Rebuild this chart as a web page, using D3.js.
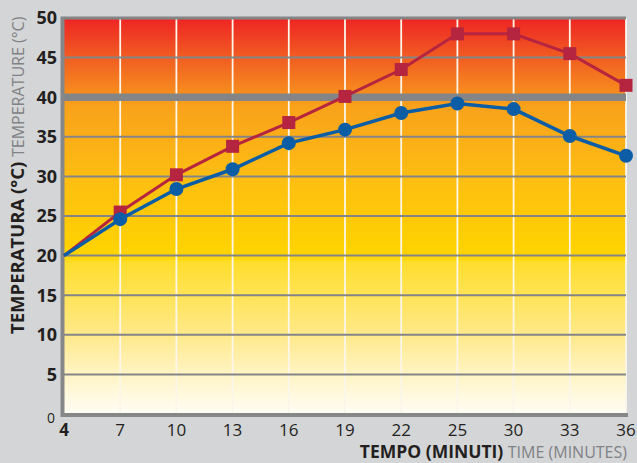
<!DOCTYPE html>
<html>
<head>
<meta charset="utf-8">
<script src="https://cdn.jsdelivr.net/npm/d3@7"></script>
<style>
  html, body { margin: 0; padding: 0; background: #d4d5d7; }
  svg { display: block; }
  text { font-family: "Open Sans", "Noto Sans", sans-serif; }
</style>
</head>
<body>
<div id="chart"></div>
<script>
// time in minutes (category axis, equally spaced)
const minutes = ['4', '7', '10', '13', '16', '19', '22', '25', '30', '33', '36']
// red series (squares)
const redTemps = [20, 25.5, 30.2, 33.8, 36.8, 40.1, 43.5, 48.0, 48.0, 45.5, 41.5]
// blue series (circles)
const blueTemps = [20, 24.6, 28.4, 30.9, 34.2, 35.9, 38.0, 39.2, 38.5, 35.1, 32.6]
const yTicks = [0, 5, 10, 15, 20, 25, 30, 35, 40, 45, 50]

const width = 637
const height = 463
const margin = { top: 18, right: 11, bottom: 49, left: 64 }
const inner = { w: width - margin.left - margin.right, h: height - margin.top - margin.bottom }

const svg = d3.select('#chart').append('svg')
  .attr('width', width).attr('height', height)

// background gradient, red at the top down to pale cream
const defs = svg.append('defs')
const grad = defs.append('linearGradient').attr('id', 'heat')
  .attr('x1', 0).attr('y1', 0).attr('x2', 0).attr('y2', 1)
const stops = [
  [0, '#ee2424'], [0.1, '#f15d22'], [0.2, '#f7921d'], [0.22, '#f9a11b'],
  [0.4, '#fdbd12'], [0.6, '#ffd400'], [0.62, '#ffde2e'], [0.8, '#ffe98a'],
  [0.9, '#fff4c4'], [1, '#fffdf6']
]
stops.forEach(([o, c]) => grad.append('stop').attr('offset', o).attr('stop-color', c))

const g = svg.append('g').attr('transform', `translate(${margin.left},${margin.top})`)

const x = d3.scalePoint().domain(minutes).range([0, inner.w]).padding(0)
const y = d3.scaleLinear().domain([0, 50]).range([inner.h, 0])

g.append('rect').attr('width', inner.w).attr('height', inner.h).attr('fill', 'url(#heat)')

// vertical white grid
g.append('g').selectAll('line').data(minutes.slice(1)).join('line')
  .attr('x1', d => x(d)).attr('x2', d => x(d)).attr('y1', 0).attr('y2', inner.h)
  .attr('stroke', '#fbf6ea').attr('stroke-width', 1.8)

// horizontal gray grid, 40 drawn as a thick band
g.append('g').selectAll('line').data(yTicks.filter(t => t > 0)).join('line')
  .attr('x1', 0).attr('x2', inner.w).attr('y1', d => y(d)).attr('y2', d => y(d))
  .attr('stroke', '#848587')
  .attr('stroke-width', d => d === 40 ? 7.5 : d === 50 ? 3 : 2)

// axis frame
g.append('line').attr('x1', -1.5).attr('x2', -1.5).attr('y1', -1.5).attr('y2', inner.h + 3)
  .attr('stroke', '#868789').attr('stroke-width', 4)
g.append('line').attr('x1', -3).attr('x2', inner.w + 2).attr('y1', inner.h + 1).attr('y2', inner.h + 1)
  .attr('stroke', '#868789').attr('stroke-width', 4)

// y tick labels
g.append('g').selectAll('text').data(yTicks).join('text')
  .attr('x', d => d === 0 ? -9 : -7)
  .attr('y', d => d === 0 ? y(d) + 4 : y(d))
  .attr('dy', '0.36em')
  .attr('text-anchor', 'end')
  .attr('fill', '#231f20')
  .style('font-size', d => d === 0 ? '14px' : '18px')
  .style('font-weight', d => d === 0 ? '400' : '700')
  .text(d => d)

// x tick labels
g.append('g').selectAll('text').data(minutes).join('text')
  .attr('x', d => x(d)).attr('y', inner.h + 22)
  .attr('text-anchor', 'middle')
  .attr('fill', '#231f20')
  .style('font-size', '17px')
  .style('font-weight', (d, i) => i === 0 ? '700' : '400')
  .text(d => d)

const line = d3.line().x((d, i) => x(minutes[i])).y(d => y(d))

// red series
g.append('path').datum(redTemps).attr('d', line)
  .attr('fill', 'none').attr('stroke', '#b5253f').attr('stroke-width', 3)
g.append('g').selectAll('rect').data(redTemps.slice(1)).join('rect')
  .attr('x', (d, i) => x(minutes[i + 1]) - 6.5).attr('y', d => y(d) - 6.5)
  .attr('width', 13).attr('height', 13).attr('fill', '#b5253f')

// blue series
g.append('path').datum(blueTemps).attr('d', line)
  .attr('fill', 'none').attr('stroke', '#0b5ea6').attr('stroke-width', 3.5)
g.append('g').selectAll('circle').data(blueTemps.slice(1)).join('circle')
  .attr('cx', (d, i) => x(minutes[i + 1])).attr('cy', d => y(d)).attr('r', 7)
  .attr('fill', '#0b5ea6')

// axis titles
const yTitle = svg.append('text')
  .attr('transform', 'translate(24,334) rotate(-90)')
  .attr('text-anchor', 'start')
yTitle.append('tspan').attr('fill', '#231f20').style('font-weight', '700').style('font-size', '18.5px')
  .text('TEMPERATURA (°C) ')
yTitle.append('tspan').attr('fill', '#808285').style('font-weight', '400').style('font-size', '16px')
  .text('TEMPERATURE (°C)')

const xTitle = svg.append('text')
  .attr('x', width - 10).attr('y', height - 5)
  .attr('text-anchor', 'end')
xTitle.append('tspan').attr('fill', '#231f20').style('font-weight', '700').style('font-size', '17.5px')
  .text('TEMPO (MINUTI) ')
xTitle.append('tspan').attr('fill', '#808285').style('font-weight', '400').style('font-size', '16px')
  .text('TIME (MINUTES)')
</script>
</body>
</html>
